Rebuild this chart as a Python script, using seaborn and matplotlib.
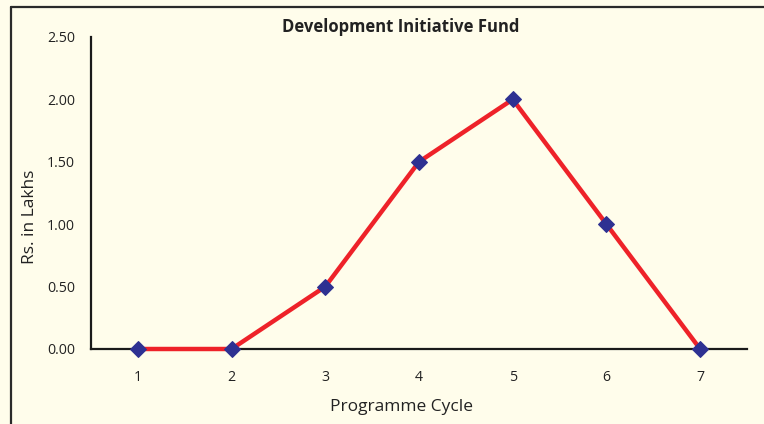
import pandas as pd
import seaborn as sns
import matplotlib.pyplot as plt
from matplotlib.lines import Line2D

# data
cycles = ["1", "2", "3", "4", "5", "6", "7"]
fund = [0.0, 0.0, 0.5, 1.5, 2.0, 1.0, 0.0]

df = pd.DataFrame({"Programme Cycle": cycles, "Rs. in Lakhs": fund})

sns.set_style("white")
plt.rcParams["font.family"] = ["Open Sans", "DejaVu Sans"]

bg = "#FFFDEB"
fig = plt.figure(figsize=(7.64, 4.24), dpi=100, facecolor=bg)
ax = fig.add_axes([91 / 764, 1 - 349 / 424, (747 - 91) / 764, (349 - 37) / 424])
ax.set_facecolor(bg)

sns.lineplot(data=df, x="Programme Cycle", y="Rs. in Lakhs", ax=ax,
             color="#EE2229", linewidth=3.2, marker="D", markersize=8.5,
             markerfacecolor="#2E3192", markeredgecolor="#2E3192", sort=False,
             clip_on=False, zorder=5)

ax.set_xlim(-0.5, 6.5)
ax.set_ylim(0, 2.5)
ax.set_yticks([0, 0.5, 1.0, 1.5, 2.0, 2.5])
ax.set_yticklabels([f"{v:.2f}" for v in [0, 0.5, 1.0, 1.5, 2.0, 2.5]])
ax.tick_params(axis="both", length=0, labelsize=10.2, colors="#222222")
ax.tick_params(axis="x", pad=15)
ax.tick_params(axis="y", pad=11.5)
ax.set_xlabel("")
ax.set_ylabel("")

for s in ["top", "right"]:
    ax.spines[s].set_visible(False)
for s in ["left", "bottom"]:
    ax.spines[s].set_color("#1a1a1a")
    ax.spines[s].set_linewidth(1.6)

fig.text(401 / 764, 1 - 27 / 424, "Development Initiative Fund", ha="center", va="center",
         fontsize=12, fontweight="bold", color="#222222")
fig.text(401 / 764, 1 - 407 / 424, "Programme Cycle", ha="center", va="center",
         fontsize=12.5, color="#222222")
fig.text(30 / 764, 1 - 217 / 424, "Rs. in Lakhs", ha="center", va="center",
         rotation=90, fontsize=12.5, color="#222222")

# frame around the chart
bx = 11 / 764
by = 1 - 7 / 424
fig.add_artist(Line2D([bx, bx], [0, by], transform=fig.transFigure, color="#2a2a2a", linewidth=1.6))
fig.add_artist(Line2D([bx, 1], [by, by], transform=fig.transFigure, color="#2a2a2a", linewidth=1.6))

fig.savefig("out.png", dpi=100, facecolor=bg)
